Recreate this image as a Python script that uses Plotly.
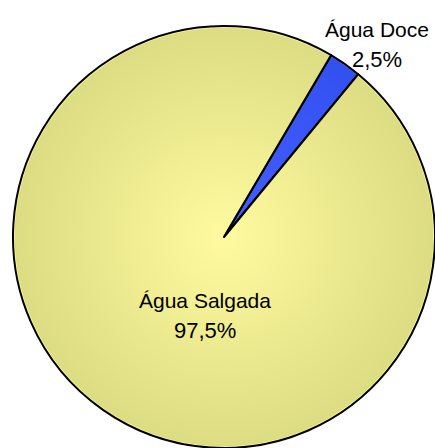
import base64
import plotly.graph_objects as go

labels = ["Água Doce", "Água Salgada"]
values = [2.5, 97.5]
# slice fills are partly transparent so the radial shading beneath shows through
colors = ["rgba(5,42,255,0.75)", "rgba(255,245,65,0.5)"]

# text anchors (paper coords) for the two slice labels: name line, percent line
label_x = [377 / 435, 205 / 435]
name_y = [1 - 29 / 448, 1 - 300 / 448]
pct_y = [1 - 59 / 448, 1 - 330 / 448]

total = sum(values)
pct_text = [f"{v / total * 100:.1f}".replace(".", ",") + "%" for v in values]

# pie placement inside the page
dom_x = [13 / 435, 1.0]
dom_y = [0.0, 422 / 448]

fig = go.Figure(
    go.Pie(
        labels=labels,
        values=values,
        sort=False,
        direction="clockwise",
        rotation=30.5,
        marker=dict(colors=colors, line=dict(color="black", width=2)),
        textinfo="none",
        showlegend=False,
        hoverinfo="label+percent",
        domain=dict(x=dom_x, y=dom_y),
    )
)

# radial shading: bright at the centre, greyer towards the rim
svg = (
    '<svg xmlns="http://www.w3.org/2000/svg" viewBox="0 0 100 100" '
    'preserveAspectRatio="none">'
    '<defs><radialGradient id="g" cx="50%" cy="50%" r="50%">'
    '<stop offset="0%" stop-color="#ffffff"/>'
    '<stop offset="100%" stop-color="#b9c3c3"/>'
    '</radialGradient></defs>'
    '<circle cx="50" cy="50" r="49.6" fill="url(#g)"/></svg>'
)
svg_uri = "data:image/svg+xml;base64," + base64.b64encode(svg.encode()).decode()

fig.add_layout_image(
    source=svg_uri,
    xref="paper",
    yref="paper",
    x=dom_x[0],
    y=dom_y[1],
    sizex=dom_x[1] - dom_x[0],
    sizey=dom_y[1] - dom_y[0],
    xanchor="left",
    yanchor="top",
    sizing="stretch",
    layer="below",
)

font = dict(family="Liberation Sans, Arial, sans-serif", color="black")
for i, name in enumerate(labels):
    fig.add_annotation(
        text=name, x=label_x[i], y=name_y[i], xref="paper", yref="paper",
        xanchor="center", yanchor="middle", showarrow=False,
        font=dict(size=21, **font),
    )
    fig.add_annotation(
        text=pct_text[i], x=label_x[i], y=pct_y[i], xref="paper", yref="paper",
        xanchor="center", yanchor="middle", showarrow=False,
        font=dict(size=22, **font),
    )

fig.update_layout(
    width=435,
    height=448,
    margin=dict(l=0, r=0, t=0, b=0),
    paper_bgcolor="white",
    plot_bgcolor="white",
)

fig.write_html("out.html")
